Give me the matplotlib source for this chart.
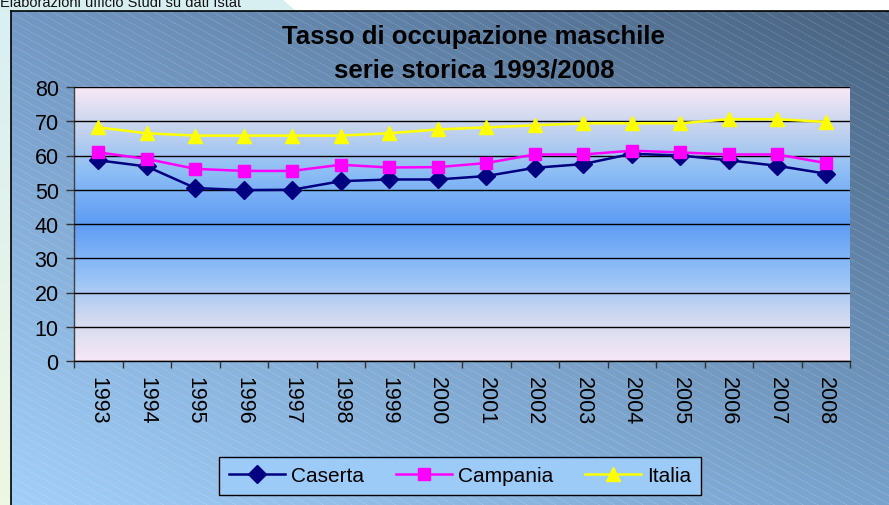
import numpy as np
import matplotlib
matplotlib.use("Agg")
import matplotlib.pyplot as plt
from matplotlib.colors import LinearSegmentedColormap
from matplotlib.patches import Rectangle, Polygon

plt.rcParams["font.family"] = ["Liberation Sans", "DejaVu Sans"]

# Tasso di occupazione maschile (%), 1993-2008
years = ["1993", "1994", "1995", "1996", "1997", "1998", "1999", "2000",
         "2001", "2002", "2003", "2004", "2005", "2006", "2007", "2008"]
caserta = [58.6, 56.8, 50.5, 49.9, 50.0, 52.5, 53.0, 53.0,
           54.0, 56.4, 57.5, 60.5, 60.0, 58.6, 57.0, 54.7]
campania = [60.9, 59.0, 56.1, 55.5, 55.5, 57.3, 56.5, 56.6,
            57.8, 60.3, 60.3, 61.4, 60.9, 60.3, 60.3, 57.8]
italia = [68.2, 66.5, 65.8, 65.8, 65.8, 65.8, 66.5, 67.6,
          68.2, 68.8, 69.4, 69.4, 69.4, 70.6, 70.6, 69.8]

W, H = 889, 506
fig = plt.figure(figsize=(W / 100, H / 100), dpi=100)
fig.patch.set_facecolor("white")

# background layer in pixel coordinates
bg = fig.add_axes([0, 0, 1, 1])
bg.set_xlim(0, W)
bg.set_ylim(H, 0)
bg.axis("off")

# pale strip on the left and behind the source note
strip = LinearSegmentedColormap.from_list("strip", ["#d9eff3", "#eef7e3"])
bg.imshow(np.linspace(0, 1, 64).reshape(-1, 1), cmap=strip, aspect="auto",
          extent=(0, 11, H, 0), zorder=0)
bg.add_patch(Polygon([(0, 0), (282, 0), (296, 12), (0, 12)], closed=True,
                     facecolor="#d8eff2", edgecolor="none", zorder=0))
bg.text(0, 6.5, "Elaborazioni ufficio Studi su dati Istat", fontsize=10.5,
        ha="left", va="baseline", color="#111111", zorder=1)

# chart area: diagonal gradient (light bottom-left, dark top-right)
tl, tr = np.array([0x72, 0x98, 0xc3]), np.array([0x48, 0x62, 0x80])
bl, br = np.array([0xa2, 0xcf, 0xf8]), np.array([0x78, 0xa2, 0xcc])
u = np.linspace(0, 1, 200)[None, :, None]
v = np.linspace(0, 1, 120)[:, None, None]
img = ((1 - v) * ((1 - u) * tl + u * tr) + v * ((1 - u) * bl + u * br)) / 255
bg.imshow(img, aspect="auto", extent=(11, W, H, 12), interpolation="bilinear", zorder=0)

clip = Rectangle((11, 12), W, H, transform=bg.transData, fill=False)
xs = np.array([11, W])
for c in range(-600, H, 8):
    ln, = bg.plot(xs, c + 0.55 * xs, color="white", lw=0.6, alpha=0.22,
                  ls=(0, (2, 1)), zorder=1)
    ln.set_clip_path(clip)
bg.plot([11, W], [12, 12], color="black", lw=1.2, zorder=2)
bg.plot([11, 11], [12, H], color="black", lw=1.2, zorder=2)

# plot area
x0, x1, y0, y1 = 74, 850, 88, 362
ax = fig.add_axes([x0 / W, (H - y1) / H, (x1 - x0) / W, (y1 - y0) / H])
ax.set_facecolor("none")
x = np.arange(len(years))
ax.set_xlim(-0.5, len(years) - 0.5)
ax.set_ylim(0, 80)

plot_bg = LinearSegmentedColormap.from_list(
    "plotbg",
    [(0.0, "#f6e8f6"), (0.15, "#d3daf0"), (0.3, "#98c3f6"), (0.5, "#5d9cf5"),
     (0.7, "#8fbff4"), (0.85, "#c4d3ee"), (1.0, "#f8e9f6")])
ax.imshow(np.linspace(0, 1, 256).reshape(-1, 1), cmap=plot_bg, aspect="auto",
          extent=(-0.5, len(years) - 0.5, 0, 80), origin="lower", zorder=0)

ax.set_yticks(range(0, 81, 10))
ax.yaxis.grid(True, color="black", lw=1.0)
ax.set_axisbelow(False)
for gl in ax.get_ygridlines():
    gl.set_zorder(1)

ax.plot(x, caserta, color="#000080", lw=1.8, marker="D", ms=9, label="Caserta", zorder=3)
ax.plot(x, campania, color="#ff00ff", lw=1.8, marker="s", ms=9, label="Campania", zorder=4)
ax.plot(x, italia, color="#ffff00", lw=1.8, marker="^", ms=10, label="Italia", zorder=5)

ax.set_xticks(x)
ax.set_xticklabels(years, rotation=270, fontsize=15.5)
ax.set_xticks(np.arange(-0.5, len(years)), minor=True)
ax.tick_params(axis="x", which="major", length=0, pad=11)
ax.tick_params(axis="x", which="minor", length=5, width=1, color="#333333")
ax.tick_params(axis="y", length=6, width=1, labelsize=15.5, pad=5, color="#333333")
for s in ("top", "right"):
    ax.spines[s].set_visible(False)
ax.spines["left"].set_color("#404040")
ax.spines["bottom"].set_color("black")
ax.spines["left"].set_linewidth(1.0)
ax.spines["bottom"].set_linewidth(1.0)

fig.text(473 / W, 1 - 37 / H, "Tasso di occupazione maschile", fontsize=18.5,
         fontweight="bold", ha="center", va="center")
fig.text(474 / W, 1 - 70 / H, "serie storica 1993/2008", fontsize=18.5,
         fontweight="bold", ha="center", va="center")

leg = fig.legend(loc="center", bbox_to_anchor=(460 / W, 1 - 477 / H), ncol=3,
                 fontsize=15, frameon=True, fancybox=False, handlelength=2.7,
                 handletextpad=0.3, columnspacing=1.5, borderpad=0.45,
                 markerscale=1.0)
leg.get_frame().set_facecolor("#9dcbf8")
leg.get_frame().set_edgecolor("black")
leg.get_frame().set_linewidth(1.0)
leg.get_frame().set_alpha(1)

fig.savefig("out.png", dpi=100)
